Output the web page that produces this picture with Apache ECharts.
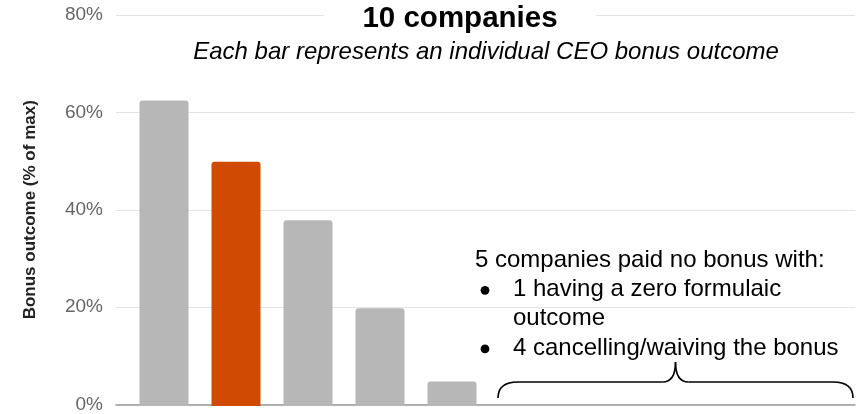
<!DOCTYPE html>
<html>
<head>
<meta charset="utf-8">
<script src="https://cdn.jsdelivr.net/npm/echarts@6/dist/echarts.min.js"></script>
<style>
  html, body { margin: 0; padding: 0; background: #fff; }
  #chart { width: 860px; height: 414px; }
</style>
</head>
<body>
<div id="chart"></div>
<script>
// CEO bonus outcomes, one bar per company (% of maximum bonus)
const companies = ['A', 'B', 'C', 'D', 'E', 'F', 'G', 'H', 'I', 'J'];
const bonusOutcome = [62.5, 50, 38, 20, 5, 0, 0, 0, 0, 0];
const highlightIndex = 1;
const yTicks = [0, 20, 40, 60, 80];

const titleText = '10 companies';
const subtitleText = 'Each bar represents an individual CEO bonus outcome';
const yAxisName = 'Bonus outcome (% of max)';
const noteHeading = '5 companies paid no bonus with:';
const noteBullets = [['1 having a zero formulaic', 'outcome'], ['4 cancelling/waiving the bonus']];

const GRAY = '#b7b7b7';
const ORANGE = '#d04a02';
const FONT = '"Liberation Sans", Arial, sans-serif';

const chart = echarts.init(document.getElementById('chart'), null, { renderer: 'canvas' });

const yMin = yTicks[0], yMax = yTicks[yTicks.length - 1], yStep = yTicks[1] - yTicks[0];

chart.setOption({
  animation: false,
  backgroundColor: '#fff',
  title: [
    {
      text: titleText,
      left: 422, top: 0, textAlign: 'center',
      backgroundColor: '#fff',
      padding: [4, 38],
      textStyle: { fontFamily: FONT, fontWeight: 'bold', fontSize: 29.5, color: '#000' }
    },
    {
      text: subtitleText,
      left: 486, top: 40, textAlign: 'center',
      padding: 0,
      textStyle: { fontFamily: FONT, fontStyle: 'italic', fontWeight: 'normal', fontSize: 24, color: '#000' }
    }
  ],
  grid: [
    { left: 116, right: 5, top: 15, bottom: 8 },
    { left: 128, width: 720, top: 15, bottom: 8 }
  ],
  xAxis: [
    {
      gridIndex: 0, type: 'category', data: [''],
      axisLine: { show: true, lineStyle: { color: '#9a9a9a', width: 1.5 } },
      axisTick: { show: false }, axisLabel: { show: false }
    },
    {
      gridIndex: 1, type: 'category', data: companies,
      axisLine: { show: false }, axisTick: { show: false }, axisLabel: { show: false }
    }
  ],
  yAxis: [
    {
      gridIndex: 0, type: 'value', min: yMin, max: yMax, interval: yStep,
      name: yAxisName, nameLocation: 'middle', nameRotate: 90, nameGap: 77,
      nameTextStyle: { fontFamily: FONT, fontWeight: 'bold', fontSize: 17, color: '#222' },
      axisLine: { show: false }, axisTick: { show: false },
      axisLabel: { formatter: '{value}%', fontFamily: FONT, fontSize: 19, color: '#666', margin: 13 },
      splitLine: { show: true, lineStyle: { color: '#e3e3e3', width: 1.2 } },
      z: 0
    },
    {
      gridIndex: 1, type: 'value', min: yMin, max: yMax, interval: yStep,
      axisLine: { show: false }, axisTick: { show: false }, axisLabel: { show: false },
      splitLine: { show: false }
    }
  ],
  series: [
    {
      type: 'bar',
      xAxisIndex: 1, yAxisIndex: 1,
      barWidth: 49,
      data: bonusOutcome.map((v, i) => ({
        value: v,
        itemStyle: { color: i === highlightIndex ? ORANGE : GRAY, borderRadius: [3, 3, 0, 0] }
      })),
      z: 3
    }
  ]
});

// Annotation for the zero-bonus companies: text block plus a curly brace spanning their bands
function drawNote() {
  const first = bonusOutcome.findIndex(v => v === 0);
  const last = bonusOutcome.length - 1;
  const half = 36;
  const xL = chart.convertToPixel({ xAxisIndex: 1 }, first) - half + 10;
  const xR = chart.convertToPixel({ xAxisIndex: 1 }, last) + half + 5;
  const y0 = chart.convertToPixel({ yAxisIndex: 1 }, 0);
  const yb = y0 - 8, yh = y0 - 24, yp = y0 - 44;
  const xc = (xL + xR) / 2;
  const r = 20, r2 = 13;
  const braceStyle = { stroke: '#000', lineWidth: 1.6, fill: null };
  const curve = (x1, y1, cx, cy, x2, y2) => ({
    type: 'bezierCurve', shape: { x1, y1, cpx1: cx, cpy1: cy, x2, y2 }, style: braceStyle, z: 10
  });
  const seg = (x1, y1, x2, y2) => ({
    type: 'line', shape: { x1, y1, x2, y2 }, style: braceStyle, z: 10
  });

  const textStyle = { fontFamily: FONT, fontSize: 24, fill: '#000' };
  const elements = [
    curve(xL, yb, xL, yh, xL + r, yh),
    seg(xL + r, yh, xc - r2, yh),
    curve(xc - r2, yh, xc, yh, xc, yp),
    curve(xc, yp, xc, yh, xc + r2, yh),
    seg(xc + r2, yh, xR - r, yh),
    curve(xR - r, yh, xR, yh, xR, yb),
    { type: 'text', left: 475, top: 248, style: Object.assign({ text: noteHeading }, textStyle), z: 10 }
  ];
  let row = 1;
  noteBullets.forEach(lines => {
    elements.push({ type: 'circle', shape: { cx: 485, cy: 261 + row * 29.3, r: 4.4 }, style: { fill: '#000' }, z: 10 });
    lines.forEach(line => {
      elements.push({ type: 'text', left: 513, top: 248 + row * 29.3, style: Object.assign({ text: line }, textStyle), z: 10 });
      row++;
    });
  });
  chart.setOption({ graphic: elements });
}
drawNote();
</script>
</body>
</html>
